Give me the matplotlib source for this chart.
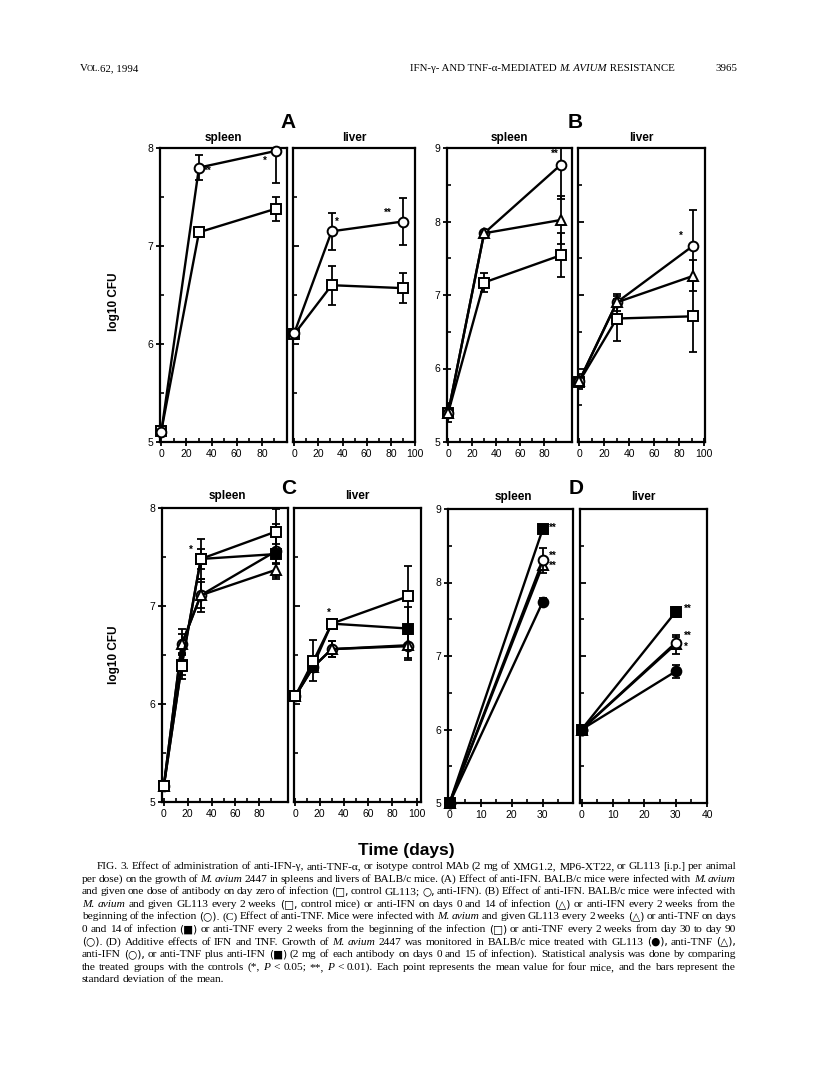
import matplotlib
matplotlib.use('Agg')
import matplotlib.pyplot as plt
from matplotlib.ticker import FixedLocator, MultipleLocator

# ---------------- data (log10 CFU, mean and SD) ----------------
# Panel A
A_spleen_days = [0, 30, 91]
A_spleen_ctrl = [5.11, 7.14, 7.38]
A_spleen_ctrl_sd = [0.0, 0.03, 0.12]
A_spleen_ifn = [5.10, 7.80, 7.97]
A_spleen_ifn_sd = [0.0, 0.13, 0.33]
A_liver_days = [0, 31, 90]
A_liver_ctrl = [6.10, 6.60, 6.57]
A_liver_ctrl_sd = [0.05, 0.20, 0.15]
A_liver_ifn = [6.11, 7.15, 7.25]
A_liver_ifn_sd = [0.03, 0.19, 0.24]

# Panel B
B_spleen_days = [0, 30, 94]
B_spleen_ctrl = [5.40, 7.17, 7.54]
B_spleen_ctrl_sd = [0.13, 0.13, 0.30]
B_spleen_ifn014 = [5.40, 7.84, 8.02]
B_spleen_ifn014_sd = [0.05, 0.02, 0.33]
B_spleen_ifnall = [5.40, 7.84, 8.77]
B_spleen_ifnall_sd = [0.05, 0.02, 0.47]
B_liver_days = [0, 30, 91]
B_liver_ctrl = [5.82, 6.68, 6.71]
B_liver_ctrl_sd = [0.10, 0.31, 0.49]
B_liver_ifn014 = [5.83, 6.90, 7.26]
B_liver_ifn014_sd = [0.05, 0.12, 0.21]
B_liver_ifnall = [5.83, 6.90, 7.67]
B_liver_ifnall_sd = [0.05, 0.05, 0.48]

# Panel C
C_spleen_days = [0, 15, 31, 94]
C_spleen_ctrl = [5.16, 6.61, 7.11, 7.37]
C_spleen_ctrl_sd = [0.0, 0.16, 0.13, 0.07]
C_spleen_tnf014 = [5.16, 6.40, 7.48, 7.53]
C_spleen_tnf014_sd = [0.0, 0.10, 0.10, 0.10]
C_spleen_tnfall = [5.16, 6.39, 7.48, 7.76]
C_spleen_tnfall_sd = [0.0, 0.13, 0.20, 0.23]
C_spleen_tnf3090 = [5.16, 6.61, 7.11, 7.56]
C_spleen_tnf3090_sd = [0.0, 0.10, 0.17, 0.28]
C_liver_days = [0, 15, 30, 93]
C_liver_ctrl = [6.08, 6.38, 6.56, 6.60]
C_liver_ctrl_sd = [0.02, 0.05, 0.08, 0.15]
C_liver_tnf014 = [6.08, 6.40, 6.82, 6.77]
C_liver_tnf014_sd = [0.02, 0.05, 0.05, 0.22]
C_liver_tnfall = [6.08, 6.44, 6.82, 7.10]
C_liver_tnfall_sd = [0.02, 0.21, 0.03, 0.31]
C_liver_tnf3090 = [6.08, 6.38, 6.56, 6.59]
C_liver_tnf3090_sd = [0.02, 0.05, 0.08, 0.12]

# Panel D
D_days = [0, 30]
D_spleen_gl113 = [5.0, 7.74]
D_spleen_gl113_sd = [0.0, 0.05]
D_spleen_tnf = [5.0, 8.24]
D_spleen_tnf_sd = [0.0, 0.05]
D_spleen_ifn = [5.0, 8.30]
D_spleen_ifn_sd = [0.0, 0.17]
D_spleen_both = [5.0, 8.73]
D_spleen_both_sd = [0.0, 0.05]
D_liver_gl113 = [6.0, 6.79]
D_liver_gl113_sd = [0.0, 0.09]
D_liver_tnf = [6.0, 7.16]
D_liver_tnf_sd = [0.0, 0.13]
D_liver_ifn = [6.0, 7.18]
D_liver_ifn_sd = [0.0, 0.08]
D_liver_both = [6.0, 7.60]
D_liver_both_sd = [0.0, 0.07]

# significance marks: (text, x, y)
A_spleen_stars = [("**", 37, 7.77), ("*", 82, 7.87)]
A_liver_stars = [("*", 35.5, 7.25), ("**", 77.6, 7.34)]
B_spleen_stars = [("**", 89, 8.92)]
B_liver_stars = [("*", 81.6, 7.81)]
C_spleen_stars = [("*", 22.4, 7.57)]
C_liver_stars = [("*", 27.7, 6.93)]
D_spleen_stars = [("**", 33.2, 8.75), ("**", 33.2, 8.36), ("**", 33.2, 8.22)]
D_liver_stars = [("**", 33.8, 7.64), ("**", 33.8, 7.27), ("*", 33.3, 7.13)]

caption_lines = [
    "FIG. 3. Effect of administration of anti-IFN-γ, anti-TNF-α, or isotype control MAb (2 mg of XMG1.2, MP6-XT22, or GL113 [i.p.] per animal",
    "per dose) on the growth of ~M. ~avium 2447 in spleens and livers of BALB/c mice. (A) Effect of anti-IFN. BALB/c mice were infected with ~M. ~avium",
    "and given one dose of antibody on day zero of infection (□, control GL113; ○, anti-IFN). (B) Effect of anti-IFN. BALB/c mice were infected with",
    "~M. ~avium and given GL113 every 2 weeks (□, control mice) or anti-IFN on days 0 and 14 of infection (△) or anti-IFN every 2 weeks from the",
    "beginning of the infection (○). (C) Effect of anti-TNF. Mice were infected with ~M. ~avium and given GL113 every 2 weeks (△) or anti-TNF on days",
    "0 and 14 of infection (■) or anti-TNF every 2 weeks from the beginning of the infection (□) or anti-TNF every 2 weeks from day 30 to day 90",
    "(○). (D) Additive effects of IFN and TNF. Growth of ~M. ~avium 2447 was monitored in BALB/c mice treated with GL113 (●), anti-TNF (△),",
    "anti-IFN (○), or anti-TNF plus anti-IFN (■) (2 mg of each antibody on days 0 and 15 of infection). Statistical analysis was done by comparing",
    "the treated groups with the controls (*, ~P < 0.05; **, ~P < 0.01). Each point represents the mean value for four mice, and the bars represent the",
    "standard deviation of the mean.",
]

# ---------------- figure ----------------
W, H = 816, 1079
fig = plt.figure(figsize=(W / 100, H / 100), dpi=100)
SANS = ['Liberation Sans', 'DejaVu Sans']
SERIF = ['Liberation Serif', 'DejaVu Serif', 'DejaVu Sans']
SYMBOLS = set("□○△■●")


def ax_at(l, r, t, b):
    return fig.add_axes([l / W, 1 - b / H, (r - l) / W, (b - t) / H])


def ftext(x, y, s, **kw):
    return fig.text(x / W, 1 - y / H, s, **kw)


def style(ax, xlim, ylim, xmajor, xminor, ylabels=True):
    ax.set_xlim(*xlim)
    ax.set_ylim(*ylim)
    ax.set_xticks(xmajor)
    ax.xaxis.set_minor_locator(FixedLocator(xminor))
    ax.set_yticks(list(range(int(ylim[0]), int(ylim[1]) + 1)))
    ax.yaxis.set_minor_locator(MultipleLocator(0.5))
    ax.tick_params(which='major', direction='inout', length=6, width=1.3,
                   labelsize=7.5, pad=2)
    ax.tick_params(which='minor', direction='in', length=3, width=1.2)
    if not ylabels:
        ax.tick_params(axis='y', which='major', direction='in', length=4,
                       labelleft=False)
    for lab in ax.get_xticklabels() + ax.get_yticklabels():
        lab.set_family(SANS)
    for s in ax.spines.values():
        s.set_linewidth(1.6)
    ax.patch.set_alpha(0)


def series(ax, x, y, sd, marker, filled, z):
    ax.errorbar(x, y, yerr=sd, color='black', lw=1.7, marker='none',
                capsize=3.2, capthick=1.3, elinewidth=1.3, zorder=z)
    ax.plot(x, y, linestyle='none', marker=marker, ms=7 if marker != '^' else 7.5,
            mfc='black' if filled else 'white', mec='black', mew=1.4,
            zorder=z + 0.5, clip_on=False)


def stars(ax, marks):
    for s, x, y in marks:
        ax.text(x, y, s, ha='center', va='center', fontsize=7,
                fontweight='bold', family=SANS, zorder=20)


t100 = [0, 20, 40, 60, 80, 100]
t80 = [0, 20, 40, 60, 80]
m100 = [10, 30, 50, 70, 90]

# ---- Panel A ----
ax = ax_at(160, 287, 148, 442)
style(ax, (-1, 100), (5, 8), t80, m100)
series(ax, A_spleen_days, A_spleen_ctrl, A_spleen_ctrl_sd, 's', False, 3)
series(ax, A_spleen_days, A_spleen_ifn, A_spleen_ifn_sd, 'o', False, 4)
stars(ax, A_spleen_stars)
ax = ax_at(293, 415, 148, 442)
style(ax, (-1, 100), (5, 8), t100, m100, ylabels=False)
series(ax, A_liver_days, A_liver_ctrl, A_liver_ctrl_sd, 's', False, 3)
series(ax, A_liver_days, A_liver_ifn, A_liver_ifn_sd, 'o', False, 4)
stars(ax, A_liver_stars)

# ---- Panel B ----
ax = ax_at(447, 572, 148, 442)
style(ax, (-1, 103.5), (5, 9), t80, m100)
series(ax, B_spleen_days, B_spleen_ctrl, B_spleen_ctrl_sd, 's', False, 3)
series(ax, B_spleen_days, B_spleen_ifnall, B_spleen_ifnall_sd, 'o', False, 4)
series(ax, B_spleen_days, B_spleen_ifn014, B_spleen_ifn014_sd, '^', False, 5)
stars(ax, B_spleen_stars)
ax = ax_at(578, 705, 148, 442)
style(ax, (-1, 100.5), (5, 9), t100, m100, ylabels=False)
series(ax, B_liver_days, B_liver_ctrl, B_liver_ctrl_sd, 's', False, 3)
series(ax, B_liver_days, B_liver_ifnall, B_liver_ifnall_sd, 'o', False, 4)
series(ax, B_liver_days, B_liver_ifn014, B_liver_ifn014_sd, '^', False, 5)
stars(ax, B_liver_stars)

# ---- Panel C ----
ax = ax_at(162, 288, 508, 802)
style(ax, (-1.5, 104), (5, 8), t80, m100)
series(ax, C_spleen_days, C_spleen_tnf3090, C_spleen_tnf3090_sd, 'o', False, 3)
series(ax, C_spleen_days, C_spleen_ctrl, C_spleen_ctrl_sd, '^', False, 4)
series(ax, C_spleen_days, C_spleen_tnf014, C_spleen_tnf014_sd, 's', True, 5)
series(ax, C_spleen_days, C_spleen_tnfall, C_spleen_tnfall_sd, 's', False, 6)
stars(ax, C_spleen_stars)
ax = ax_at(294, 421, 508, 802)
style(ax, (-1, 103.5), (5, 8), t100, m100, ylabels=False)
series(ax, C_liver_days, C_liver_tnf3090, C_liver_tnf3090_sd, 'o', False, 3)
series(ax, C_liver_days, C_liver_ctrl, C_liver_ctrl_sd, '^', False, 4)
series(ax, C_liver_days, C_liver_tnf014, C_liver_tnf014_sd, 's', True, 5)
series(ax, C_liver_days, C_liver_tnfall, C_liver_tnfall_sd, 's', False, 6)
stars(ax, C_liver_stars)

# ---- Panel D ----
ax = ax_at(448, 573, 509, 803)
style(ax, (-0.5, 39.7), (5, 9), [0, 10, 20, 30], [5, 15, 25, 35])
series(ax, D_days, D_spleen_gl113, D_spleen_gl113_sd, 'o', True, 3)
series(ax, D_days, D_spleen_tnf, D_spleen_tnf_sd, '^', False, 4)
series(ax, D_days, D_spleen_ifn, D_spleen_ifn_sd, 'o', False, 5)
series(ax, D_days, D_spleen_both, D_spleen_both_sd, 's', True, 6)
stars(ax, D_spleen_stars)
ax = ax_at(580, 707, 509, 803)
style(ax, (-0.5, 40), (5, 9), [0, 10, 20, 30, 40], [5, 15, 25, 35], ylabels=False)
series(ax, D_days, D_liver_gl113, D_liver_gl113_sd, 'o', True, 3)
series(ax, D_days, D_liver_tnf, D_liver_tnf_sd, '^', False, 4)
series(ax, D_days, D_liver_ifn, D_liver_ifn_sd, 'o', False, 5)
series(ax, D_days, D_liver_both, D_liver_both_sd, 's', True, 6)
stars(ax, D_liver_stars)

# ---- panel labels ----
big = dict(fontsize=15, fontweight='bold', family=SANS, ha='center', va='center')
lab = dict(fontsize=8.5, fontweight='bold', family=SANS, ha='center', va='center')
for letter, x, y in [("A", 288, 122), ("B", 575, 122), ("C", 289, 488), ("D", 576, 488)]:
    ftext(x, y, letter, **big)
for s, x, y in [("spleen", 223, 138), ("liver", 354, 138), ("spleen", 509, 138),
                ("liver", 641, 138), ("spleen", 227, 496), ("liver", 357, 496),
                ("spleen", 513, 497), ("liver", 643, 497)]:
    ftext(x, y, s, **lab)
for y in (302, 655):
    ftext(114, y, "log10 CFU", rotation=90, fontsize=8.5, fontweight='bold',
          family=SANS, ha='center', va='center')
ftext(406, 850, "Time (days)", fontsize=12.5, fontweight='bold', family=SANS,
      ha='center', va='center')

# ---- header ----
r = fig.canvas.get_renderer()
hdr = dict(fontsize=7.8, family=SERIF, va='baseline')
ftext(80, 71, "V", ha='left', **hdr)
ftext(86.5, 71, "OL.", ha='left', fontsize=6.2, family=SERIF, va='baseline')
ftext(100, 71, "62, 1994", ha='left', **hdr)
x = 410
for s, st in [("IFN-γ- AND TNF-α-MEDIATED ", 'normal'), ("M. AVIUM", 'italic'),
              (" RESISTANCE", 'normal')]:
    tt = ftext(x, 71, s, ha='left', style=st, **hdr)
    x += tt.get_window_extent(r).width
ftext(737, 71, "3965", ha='right', **hdr)

# ---- caption, justified word by word ----
CAP_FS = 8.2
cap_kw = dict(va='baseline', ha='left')
a1 = ftext(0, 0, "a b", fontsize=CAP_FS, family=SERIF, **cap_kw)
a2 = ftext(0, 0, "ab", fontsize=CAP_FS, family=SERIF, **cap_kw)
sp_w = a1.get_window_extent(r).width - a2.get_window_extent(r).width
a1.remove()
a2.remove()
for i, line in enumerate(caption_lines):
    y = 869 + i * 12.6
    x0 = 97 if i == 0 else 82
    x1 = 736
    toks = line.split(' ')
    objs = []
    for tok in toks:
        it = tok.startswith('~')
        s = tok.lstrip('~')
        if any(c in SYMBOLS for c in s):
            o = ftext(x0, y, s, fontsize=CAP_FS - 0.6,
                      family=['DejaVu Sans'], **cap_kw)
        else:
            o = ftext(x0, y, s, fontsize=CAP_FS, family=SERIF,
                      style='italic' if it else 'normal', **cap_kw)
        objs.append(o)
    widths = [o.get_window_extent(r).width for o in objs]
    last = i == len(caption_lines) - 1
    gap = sp_w if last else (x1 - x0 - sum(widths)) / (len(toks) - 1)
    x = x0
    for o, w in zip(objs, widths):
        o.set_position((x / W, 1 - y / H))
        x += w + gap

fig.savefig("out.png", dpi=100)
